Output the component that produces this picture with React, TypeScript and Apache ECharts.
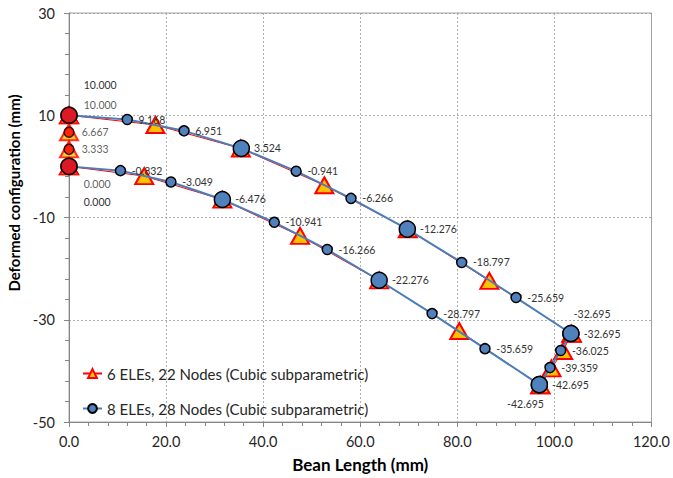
import React, { useEffect, useRef } from "react";
import * as echarts from "echarts";

// 8 ELEs, 28 nodes: deformed boundary nodes (mm)
const blueTopX = [0, 12.0, 23.7, 35.5, 46.8, 58.1, 69.7, 80.9, 92.1, 103.4];
const blueTopY = [10.0, 9.168, 6.951, 3.524, -0.941, -6.266, -12.276, -18.797, -25.659, -32.695];
const blueRightX = [103.4, 101.3, 99.1, 96.9];
const blueRightY = [-32.695, -36.025, -39.359, -42.695];
const blueBottomX = [96.9, 85.7, 74.8, 63.9, 53.2, 42.3, 31.6, 21.0, 10.6, 0];
const blueBottomY = [-42.695, -35.659, -28.797, -22.276, -16.266, -10.941, -6.476, -3.049, -0.832, 0.0];

// left (clamped) edge nodes
const leftX = [0, 0, 0, 0];
const leftY = [0.0, 3.333, 6.667, 10.0];

// 6 ELEs, 22 nodes: deformed boundary nodes (mm)
const redTopX = [0, 17.8, 35.4, 52.6, 69.8, 86.6, 103.5];
const redTopY = [10.0, 8.1, 3.5, -3.7, -12.3, -22.4, -32.7];
const redRightX = [103.6, 101.8, 99.4, 97.1];
const redRightY = [-32.75, -36.1, -39.5, -42.8];
const redBottomX = [97.1, 80.4, 63.9, 47.6, 31.6, 15.5, 0];
const redBottomY = [-42.8, -32.2, -22.3, -13.6, -6.5, -1.9, 0.0];

const xTicks = { min: 0, max: 120, step: 20 };
const yTicks = { min: -50, max: 30, step: 20 };

const NAME6 = "6 ELEs, 22 Nodes (Cubic subparametric)";
const NAME8 = "8 ELEs, 28 Nodes (Cubic subparametric)";
const X_TITLE = "Bean Length (mm)";
const Y_TITLE = "Deformed configuration (mm)";

const FONT = "Lato, 'Open Sans', sans-serif";
const BLUE = "#4F81BD";
const TEXT = "#262626";
const LABEL = "#333333";
const AXIS = "#868686";

const pts = (xs: number[], ys: number[]) => xs.map((x, i) => [x, ys[i]]);
const fmt = (p: any) => (p.value[1] as number).toFixed(3);

export default function App() {
  const ref = useRef<HTMLDivElement>(null);

  useEffect(() => {
    const chart = echarts.init(ref.current!, null, { renderer: "svg" });

    // blue node list: top edge, right edge, bottom edge (corners repeated)
    const edges = [
      pts(blueTopX, blueTopY),
      pts(blueRightX, blueRightY),
      pts(blueBottomX, blueBottomY),
    ];
    // labels of repeated corner nodes are moved off the curve
    const shift: Record<string, [number, number]> = {
      "0-0": [2, -30],
      "1-0": [-10, -19.6],
      "2-0": [-45, 19],
      "2-9": [2, 36],
    };
    const blueData: any[] = [];
    edges.forEach((edge, e) => {
      edge.forEach((v, i) => {
        const corner = i % 3 === 0;
        const off = shift[`${e}-${i}`] || [0, 0];
        blueData.push({
          value: v,
          symbolSize: corner ? 16 : 10,
          label: { distance: corner ? 4 : 5.5, offset: off, color: LABEL },
        });
      });
    });

    const redData = [
      ...pts(redTopX, redTopY),
      ...pts(redRightX, redRightY),
      ...pts(redBottomX, redBottomY),
    ];

    const leftShift: [number, number][] = [[2, 17.6], [0, 0], [0, 0], [2, -10]];
    const leftData = pts(leftX, leftY).map((v, i) => {
      const corner = i % 3 === 0;
      return {
        value: v,
        symbolSize: corner ? 16 : 10,
        label: { distance: corner ? 4 : 7, offset: leftShift[i], color: LABEL },
      };
    });

    const triStyle = { color: "#FFC000", borderColor: "#FF0000", borderWidth: 2 };
    const labelStyle = {
      show: true,
      position: "right",
      formatter: fmt,
      fontFamily: FONT,
      fontSize: 10.5,
      color: LABEL,
    };
    const gridLine = { show: true, lineStyle: { color: "#9a9a9a", type: [2, 2], width: 0.8 } };

    chart.setOption({
      animation: false,
      textStyle: { fontFamily: FONT },
      grid: {
        left: 69,
        right: 17,
        top: 13,
        bottom: 55,
        show: true,
        borderColor: "#A6A6A6",
        borderWidth: 1,
      },
      legend: {
        data: [NAME6, NAME8],
        orient: "vertical",
        left: 77,
        top: 361,
        itemWidth: 19,
        itemHeight: 11,
        itemGap: 20,
        textStyle: { fontFamily: FONT, fontSize: 15, color: TEXT },
      },
      graphic: [
        {
          type: "text",
          x: 14,
          y: 193,
          rotation: Math.PI / 2,
          style: {
            text: Y_TITLE,
            align: "center",
            verticalAlign: "middle",
            fontFamily: FONT,
            fontSize: 15,
            fontWeight: "bold",
            fill: "#000",
          },
        },
      ],
      xAxis: {
        type: "value",
        min: xTicks.min,
        max: xTicks.max,
        interval: xTicks.step,
        name: X_TITLE,
        nameLocation: "middle",
        nameGap: 34,
        nameTextStyle: { fontFamily: FONT, fontSize: 17, fontWeight: "bold", color: "#000" },
        axisLine: { onZero: false, lineStyle: { color: AXIS, width: 1 } },
        axisTick: { show: true, length: 5, lineStyle: { color: AXIS } },
        minorTick: { show: true, splitNumber: 5, length: 4, lineStyle: { color: AXIS } },
        splitLine: gridLine,
        axisLabel: {
          fontFamily: FONT,
          fontSize: 14.5,
          color: TEXT,
          margin: 12,
          formatter: (v: number) => v.toFixed(1),
        },
      },
      yAxis: {
        type: "value",
        min: yTicks.min,
        max: yTicks.max,
        interval: yTicks.step,
        axisLine: { onZero: false, lineStyle: { color: AXIS, width: 1 } },
        axisTick: { show: true, length: 5, lineStyle: { color: AXIS } },
        minorTick: { show: true, splitNumber: 5, length: 4, lineStyle: { color: AXIS } },
        splitLine: gridLine,
        axisLabel: { fontFamily: FONT, fontSize: 14.5, color: TEXT, margin: 14 },
      },
      series: [
        {
          name: NAME6,
          type: "line",
          data: redData,
          symbol: "triangle",
          symbolSize: [18, 16],
          itemStyle: triStyle,
          lineStyle: { color: "#FF0000", width: 1 },
          z: 2,
        },
        {
          type: "scatter",
          data: pts(leftX, leftY),
          symbol: "triangle",
          symbolSize: [18, 16],
          itemStyle: triStyle,
          z: 2,
        },
        {
          name: NAME8,
          type: "line",
          data: blueData,
          symbol: "circle",
          itemStyle: { color: BLUE, borderColor: "#000", borderWidth: 1.5 },
          lineStyle: { color: "#4A7EBB", width: 2 },
          label: labelStyle,
          z: 3,
        },
        {
          type: "scatter",
          data: leftData,
          symbol: "circle",
          itemStyle: { color: "#FF0000", borderColor: "#000", borderWidth: 1.5 },
          label: labelStyle,
          z: 4,
        },
      ],
    });

    return () => chart.dispose();
  }, []);

  return (
    <div
      ref={ref}
      style={{ position: "absolute", left: 0, top: 0, width: 673, height: 478, background: "#fff" }}
    />
  );
}
